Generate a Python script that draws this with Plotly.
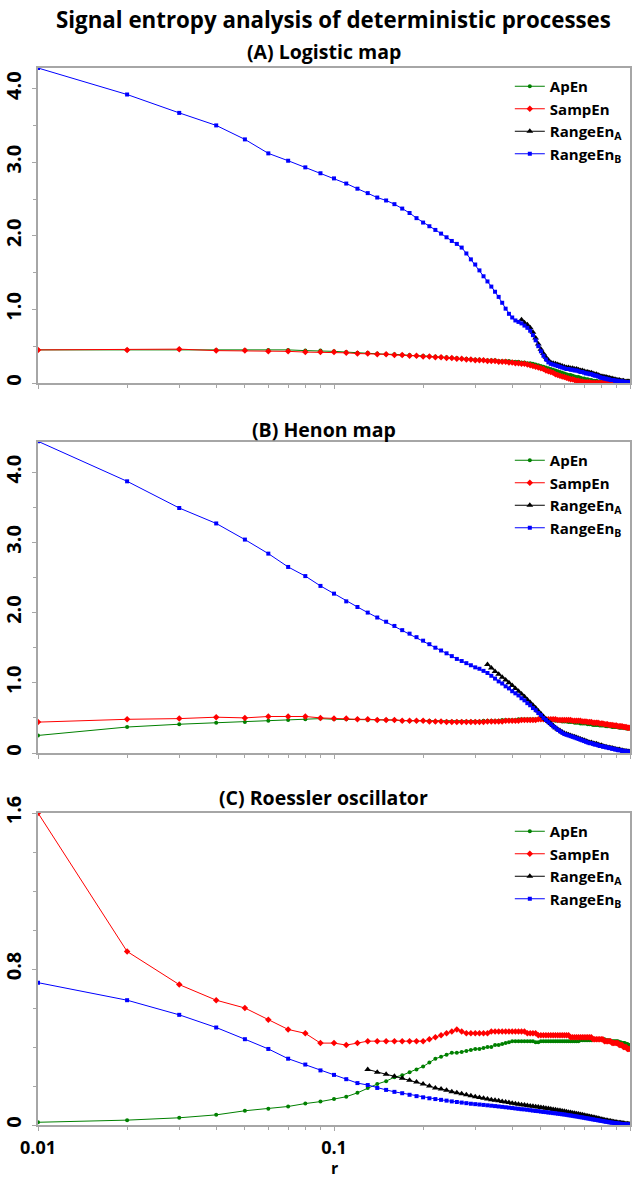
import plotly.graph_objects as go

r = [0.01, 0.02, 0.03, 0.04, 0.05, 0.06, 0.07, 0.08, 0.09, 0.10,
     0.11, 0.12, 0.13, 0.14, 0.15, 0.16, 0.17, 0.18, 0.19, 0.20,
     0.21, 0.22, 0.23, 0.24, 0.25, 0.26, 0.27, 0.28, 0.29, 0.30,
     0.31, 0.32, 0.33, 0.34, 0.35, 0.36, 0.37, 0.38, 0.39, 0.40,
     0.41, 0.42, 0.43, 0.44, 0.45, 0.46, 0.47, 0.48, 0.49, 0.50,
     0.51, 0.52, 0.53, 0.54, 0.55, 0.56, 0.57, 0.58, 0.59, 0.60,
     0.61, 0.62, 0.63, 0.64, 0.65, 0.66, 0.67, 0.68, 0.69, 0.70,
     0.71, 0.72, 0.73, 0.74, 0.75, 0.76, 0.77, 0.78, 0.79, 0.80,
     0.81, 0.82, 0.83, 0.84, 0.85, 0.86, 0.87, 0.88, 0.89, 0.90,
     0.91, 0.92, 0.93, 0.94, 0.95, 0.96, 0.97, 0.98, 0.99, 1.00]

# ---------------- (A) Logistic map ----------------
a_apen = [0.45, 0.45, 0.46, 0.45, 0.45, 0.45, 0.45, 0.44, 0.44, 0.43,
          0.42, 0.41, 0.41, 0.40, 0.39, 0.39, 0.38, 0.38, 0.37, 0.37,
          0.36, 0.36, 0.35, 0.35, 0.34, 0.34, 0.33, 0.33, 0.32, 0.32,
          0.32, 0.31, 0.31, 0.31, 0.31, 0.30, 0.30, 0.30, 0.30, 0.29,
          0.29, 0.29, 0.28, 0.28, 0.27, 0.27, 0.26, 0.25, 0.24, 0.23,
          0.22, 0.21, 0.20, 0.19, 0.18, 0.17, 0.16, 0.15, 0.14, 0.13,
          0.12, 0.11, 0.11, 0.10, 0.09, 0.08, 0.08, 0.07, 0.06, 0.06,
          0.05, 0.05, 0.04, 0.04, 0.03, 0.03, 0.03, 0.02, 0.02, 0.02,
          0.02, 0.01, 0.01, 0.01, 0.01, 0.01, 0.01, 0.00, 0.00, 0.00,
          0.00, 0.00, 0.00, 0.00, 0.00, 0.00, 0.00, 0.00, 0.00, 0.00]
a_sampen = [0.45, 0.45, 0.46, 0.44, 0.44, 0.43, 0.43, 0.42, 0.42, 0.42,
            0.41, 0.40, 0.40, 0.39, 0.39, 0.38, 0.38, 0.37, 0.37, 0.36,
            0.36, 0.35, 0.35, 0.34, 0.34, 0.33, 0.33, 0.32, 0.32, 0.31,
            0.31, 0.31, 0.30, 0.30, 0.30, 0.29, 0.29, 0.29, 0.28, 0.28,
            0.27, 0.27, 0.26, 0.26, 0.25, 0.24, 0.23, 0.22, 0.21, 0.20,
            0.19, 0.17, 0.16, 0.15, 0.14, 0.12, 0.11, 0.10, 0.09, 0.08,
            0.07, 0.06, 0.05, 0.05, 0.04, 0.03, 0.03, 0.02, 0.02, 0.01,
            0.01, 0.01, 0.01, 0.00, 0.00, 0.00, 0.00, 0.00, 0.00, 0.00,
            0.00, 0.00, 0.00, 0.00, 0.00, 0.00, 0.00, 0.00, 0.00, 0.00,
            0.00, 0.00, 0.00, 0.00, 0.00, 0.00, 0.00, 0.00, 0.00, 0.00]
a_rangeA = [None] * 42 + [
            0.86, 0.82, 0.79, 0.75, 0.69, 0.61, 0.53, 0.46,
            0.40, 0.35, 0.31, 0.28, 0.27, 0.26, 0.25, 0.24, 0.23, 0.22,
            0.21, 0.21, 0.20, 0.20, 0.19, 0.19, 0.18, 0.17, 0.17, 0.16,
            0.15, 0.15, 0.14, 0.14, 0.13, 0.12, 0.12, 0.11, 0.10, 0.09,
            0.09, 0.08, 0.08, 0.07, 0.07, 0.06, 0.06, 0.05, 0.05, 0.04,
            0.04, 0.04, 0.03, 0.03, 0.03, 0.02, 0.02, 0.02, 0.02, 0.02]
a_rangeB = [4.28, 3.92, 3.67, 3.50, 3.31, 3.12, 3.02, 2.93, 2.85, 2.78,
            2.71, 2.64, 2.58, 2.52, 2.48, 2.43, 2.37, 2.31, 2.24, 2.18,
            2.13, 2.08, 2.03, 1.98, 1.93, 1.89, 1.84, 1.76, 1.68, 1.61,
            1.53, 1.45, 1.38, 1.31, 1.24, 1.17, 1.09, 1.01, 0.94, 0.89,
            0.85, 0.83, 0.81, 0.78, 0.75, 0.71, 0.65, 0.58, 0.50, 0.43,
            0.37, 0.32, 0.28, 0.26, 0.25, 0.24, 0.23, 0.22, 0.21, 0.20,
            0.19, 0.19, 0.18, 0.18, 0.17, 0.17, 0.16, 0.15, 0.15, 0.14,
            0.13, 0.13, 0.12, 0.12, 0.11, 0.10, 0.10, 0.09, 0.08, 0.07,
            0.07, 0.06, 0.06, 0.05, 0.05, 0.04, 0.04, 0.04, 0.03, 0.03,
            0.03, 0.02, 0.02, 0.02, 0.02, 0.01, 0.01, 0.01, 0.01, 0.01]

# ---------------- (B) Henon map ----------------
b_apen = [0.25, 0.37, 0.41, 0.43, 0.44, 0.46, 0.47, 0.48, 0.49, 0.48,
          0.48, 0.48, 0.47, 0.47, 0.47, 0.47, 0.46, 0.46, 0.46, 0.46,
          0.46, 0.45, 0.45, 0.45, 0.45, 0.45, 0.45, 0.45, 0.45, 0.45,
          0.45, 0.46, 0.46, 0.46, 0.46, 0.46, 0.47, 0.47, 0.47, 0.47,
          0.47, 0.48, 0.48, 0.48, 0.48, 0.48, 0.48, 0.48, 0.48, 0.48,
          0.48, 0.48, 0.47, 0.47, 0.47, 0.46, 0.46, 0.46, 0.45, 0.45,
          0.45, 0.44, 0.44, 0.44, 0.43, 0.43, 0.43, 0.42, 0.42, 0.42,
          0.42, 0.41, 0.41, 0.41, 0.40, 0.40, 0.40, 0.40, 0.39, 0.39,
          0.39, 0.39, 0.38, 0.38, 0.38, 0.38, 0.37, 0.37, 0.37, 0.37,
          0.37, 0.36, 0.36, 0.36, 0.36, 0.36, 0.35, 0.35, 0.35, 0.35]
b_sampen = [0.44, 0.48, 0.49, 0.51, 0.50, 0.52, 0.52, 0.52, 0.50, 0.49,
            0.49, 0.48, 0.48, 0.47, 0.47, 0.47, 0.46, 0.46, 0.46, 0.46,
            0.45, 0.45, 0.45, 0.44, 0.44, 0.44, 0.44, 0.44, 0.44, 0.44,
            0.44, 0.44, 0.45, 0.45, 0.45, 0.45, 0.45, 0.46, 0.46, 0.46,
            0.46, 0.46, 0.47, 0.47, 0.47, 0.47, 0.47, 0.47, 0.48, 0.48,
            0.48, 0.48, 0.48, 0.48, 0.48, 0.48, 0.47, 0.47, 0.47, 0.47,
            0.47, 0.47, 0.47, 0.46, 0.46, 0.46, 0.46, 0.46, 0.45, 0.45,
            0.45, 0.44, 0.44, 0.44, 0.43, 0.43, 0.43, 0.43, 0.42, 0.42,
            0.42, 0.41, 0.41, 0.41, 0.40, 0.40, 0.40, 0.39, 0.39, 0.39,
            0.38, 0.38, 0.38, 0.38, 0.37, 0.37, 0.37, 0.36, 0.36, 0.36]
b_rangeA = [None] * 32 + [
            1.26, 1.21, 1.16, 1.12, 1.08, 1.04, 1.00, 0.96,
            0.92, 0.88, 0.84, 0.80, 0.76, 0.72, 0.68, 0.64, 0.60, 0.56,
            0.52, 0.48, 0.45, 0.42, 0.39, 0.36, 0.34, 0.32, 0.30, 0.28,
            0.27, 0.26, 0.25, 0.24, 0.23, 0.22, 0.21, 0.20, 0.19, 0.18,
            0.17, 0.16, 0.15, 0.15, 0.14, 0.13, 0.13, 0.12, 0.11, 0.11,
            0.10, 0.09, 0.09, 0.08, 0.08, 0.07, 0.07, 0.06, 0.06, 0.05,
            0.05, 0.05, 0.04, 0.04, 0.03, 0.03, 0.03, 0.02, 0.02, 0.02]
b_rangeB = [4.44, 3.87, 3.49, 3.27, 3.04, 2.84, 2.65, 2.52, 2.38, 2.27,
            2.16, 2.08, 2.00, 1.93, 1.87, 1.81, 1.75, 1.70, 1.65, 1.60,
            1.55, 1.50, 1.46, 1.42, 1.38, 1.34, 1.31, 1.28, 1.25, 1.22,
            1.20, 1.17, 1.14, 1.10, 1.06, 1.02, 0.99, 0.95, 0.92, 0.88,
            0.85, 0.82, 0.78, 0.75, 0.71, 0.68, 0.64, 0.61, 0.57, 0.54,
            0.50, 0.47, 0.44, 0.41, 0.38, 0.36, 0.33, 0.31, 0.29, 0.27,
            0.26, 0.25, 0.24, 0.23, 0.22, 0.21, 0.20, 0.19, 0.18, 0.17,
            0.16, 0.15, 0.14, 0.14, 0.13, 0.12, 0.12, 0.11, 0.10, 0.10,
            0.09, 0.09, 0.08, 0.08, 0.07, 0.07, 0.06, 0.06, 0.05, 0.05,
            0.04, 0.04, 0.04, 0.03, 0.03, 0.03, 0.02, 0.02, 0.02, 0.01]

# ---------------- (C) Roessler oscillator ----------------
c_apen = [0.014, 0.025, 0.037, 0.052, 0.073, 0.083, 0.095, 0.110, 0.120, 0.133,
          0.145, 0.165, 0.190, 0.210, 0.225, 0.245, 0.255, 0.270, 0.285, 0.300,
          0.320, 0.340, 0.350, 0.360, 0.370, 0.370, 0.375, 0.380, 0.385, 0.390,
          0.390, 0.395, 0.400, 0.400, 0.410, 0.410, 0.415, 0.420, 0.425, 0.430,
          0.430, 0.430, 0.430, 0.430, 0.430, 0.430, 0.430, 0.425, 0.425, 0.430,
          0.430, 0.430, 0.430, 0.430, 0.430, 0.430, 0.430, 0.430, 0.430, 0.430,
          0.430, 0.430, 0.430, 0.430, 0.430, 0.430, 0.430, 0.435, 0.435, 0.435,
          0.435, 0.435, 0.435, 0.435, 0.440, 0.440, 0.440, 0.440, 0.440, 0.440,
          0.440, 0.440, 0.435, 0.435, 0.435, 0.430, 0.430, 0.430, 0.430, 0.430,
          0.430, 0.425, 0.425, 0.420, 0.420, 0.420, 0.415, 0.415, 0.410, 0.410]
c_sampen = [1.60, 0.89, 0.72, 0.64, 0.60, 0.54, 0.49, 0.47, 0.42, 0.42,
            0.41, 0.42, 0.43, 0.43, 0.43, 0.43, 0.43, 0.43, 0.43, 0.43,
            0.44, 0.45, 0.46, 0.47, 0.48, 0.49, 0.48, 0.47, 0.47, 0.47,
            0.47, 0.47, 0.47, 0.48, 0.48, 0.48, 0.48, 0.48, 0.48, 0.48,
            0.48, 0.48, 0.48, 0.48, 0.47, 0.47, 0.47, 0.47, 0.46, 0.46,
            0.46, 0.46, 0.46, 0.46, 0.46, 0.46, 0.46, 0.46, 0.46, 0.46,
            0.46, 0.46, 0.45, 0.45, 0.45, 0.45, 0.45, 0.45, 0.45, 0.45,
            0.45, 0.45, 0.45, 0.45, 0.44, 0.44, 0.44, 0.44, 0.44, 0.44,
            0.44, 0.43, 0.43, 0.43, 0.43, 0.43, 0.42, 0.42, 0.42, 0.42,
            0.42, 0.41, 0.41, 0.41, 0.40, 0.40, 0.40, 0.39, 0.39, 0.39]
c_rangeA = [None] * 12 + [
            0.285, 0.270, 0.260, 0.250, 0.240, 0.230, 0.220, 0.210,
            0.200, 0.190, 0.185, 0.178, 0.170, 0.165, 0.160, 0.155, 0.150, 0.145,
            0.141, 0.137, 0.133, 0.130, 0.127, 0.124, 0.121, 0.118, 0.115, 0.112,
            0.109, 0.107, 0.104, 0.102, 0.100, 0.098, 0.096, 0.094, 0.092, 0.090,
            0.088, 0.086, 0.084, 0.082, 0.080, 0.078, 0.076, 0.074, 0.072, 0.070,
            0.068, 0.066, 0.064, 0.062, 0.060, 0.058, 0.056, 0.054, 0.052, 0.050,
            0.048, 0.046, 0.044, 0.042, 0.040, 0.038, 0.036, 0.034, 0.032, 0.030,
            0.028, 0.026, 0.025, 0.023, 0.021, 0.020, 0.018, 0.017, 0.015, 0.014,
            0.013, 0.012, 0.011, 0.010, 0.009, 0.008, 0.007, 0.006, 0.005, 0.005]
c_rangeB = [0.730, 0.640, 0.565, 0.500, 0.440, 0.390, 0.340, 0.310, 0.280, 0.257,
            0.235, 0.215, 0.205, 0.190, 0.180, 0.170, 0.163, 0.155, 0.148, 0.142,
            0.137, 0.133, 0.129, 0.125, 0.121, 0.118, 0.115, 0.112, 0.109, 0.107,
            0.105, 0.103, 0.101, 0.099, 0.097, 0.095, 0.093, 0.091, 0.089, 0.087,
            0.085, 0.083, 0.081, 0.080, 0.078, 0.076, 0.074, 0.072, 0.071, 0.069,
            0.067, 0.066, 0.064, 0.063, 0.061, 0.060, 0.058, 0.057, 0.055, 0.054,
            0.052, 0.050, 0.049, 0.047, 0.045, 0.044, 0.042, 0.040, 0.039, 0.037,
            0.035, 0.034, 0.032, 0.030, 0.029, 0.027, 0.026, 0.024, 0.023, 0.021,
            0.020, 0.018, 0.017, 0.016, 0.014, 0.013, 0.012, 0.011, 0.010, 0.009,
            0.008, 0.007, 0.006, 0.005, 0.005, 0.004, 0.003, 0.003, 0.002, 0.002]

panel_titles = ["(A) Logistic map", "(B) Henon map", "(C) Roessler oscillator"]
main_title = "Signal entropy analysis of deterministic processes"
x_label = "r"
series_names = ["ApEn", "SampEn", "RangeEn<sub>A</sub>", "RangeEn<sub>B</sub>"]
x_tickvals = [0.01, 0.1, 1]
x_ticktext = ["0.01", "0.1", "1"]
x_minor = [0.02, 0.03, 0.04, 0.05, 0.06, 0.07, 0.08, 0.09,
           0.2, 0.3, 0.4, 0.5, 0.6, 0.7, 0.8, 0.9]
y_ticks_ab = [0, 1, 2, 3, 4]
y_text_ab = ["0", "1.0", "2.0", "3.0", "4.0"]
y_ticks_c = [0, 0.8, 1.6]
y_text_c = ["0", "0.8", "1.6"]

FONT = "'Open Sans', sans-serif"
colors = ["#008000", "#ff0000", "#000000", "#0000ff"]
symbols = ["circle", "diamond", "triangle-up", "square"]
msizes = [4, 5, 6, 4]

panels = [
    [a_apen, a_sampen, a_rangeA, a_rangeB],
    [b_apen, b_sampen, b_rangeA, b_rangeB],
    [c_apen, c_sampen, c_rangeA, c_rangeB],
]

H = 1180.0
W_L, W_R = 38, 630
# plot areas in pixels (top, bottom)
areas = [(68, 383), (442, 753), (813, 1125)]
doms = [[1 - b / H, 1 - t / H] for t, b in areas]
yranges = [[0, 4.28], [0, 4.43], [0, 1.6]]

fig = go.Figure()
for p, data in enumerate(panels):
    sfx = "" if p == 0 else str(p + 1)
    for k, ys in enumerate(data):
        fig.add_trace(go.Scatter(
            x=r, y=ys, mode="lines+markers", name=series_names[k],
            line=dict(color=colors[k], width=1),
            marker=dict(color=colors[k], symbol=symbols[k], size=msizes[k]),
            xaxis="x" + sfx, yaxis="y" + sfx,
            legend="legend" + sfx,
        ))

layout = dict(
    width=634, height=1180,
    margin=dict(l=W_L, r=634 - W_R, t=0, b=0),
    paper_bgcolor="white", plot_bgcolor="white",
    font=dict(family=FONT, color="black"),
    showlegend=True,
)

for p in range(3):
    sfx = "" if p == 0 else str(p + 1)
    last = p == 2
    layout["xaxis" + sfx] = dict(
        type="log", range=[-2, 0], domain=[0, 1], anchor="y" + sfx,
        showgrid=False, zeroline=False,
        showline=True, linecolor="#a6a6a6", linewidth=1.5, mirror=True,
        ticks="outside", ticklen=4, tickcolor="#a6a6a6",
        tickvals=x_tickvals,
        ticktext=["<b>" + t + "</b>" for t in x_ticktext] if last else ["", "", ""],
        showticklabels=last,
        tickfont=dict(size=18, family=FONT, color="black"),
        ticklabelstandoff=2,
        minor=dict(tickvals=x_minor, ticks="outside", ticklen=3, tickcolor="#a6a6a6"),
        automargin=False,
    )
    if p < 2:
        tv, tt, mdt = y_ticks_ab, y_text_ab, 0.5
    else:
        tv, tt, mdt = y_ticks_c, y_text_c, 0.2
    layout["yaxis" + sfx] = dict(
        range=yranges[p], domain=doms[p], anchor="x" + sfx,
        showgrid=False, zeroline=False,
        showline=True, linecolor="#a6a6a6", linewidth=1.5, mirror=True,
        ticks="outside", ticklen=4, tickcolor="#a6a6a6",
        tickvals=tv, ticktext=["<b>" + t + "</b>" for t in tt], tickangle=-90,
        tickfont=dict(size=20, family=FONT, color="black"),
        ticklabelstandoff=3,
        minor=dict(dtick=mdt, ticks="outside", ticklen=3, tickcolor="#a6a6a6"),
        automargin=False,
    )
    top_px = areas[p][0]
    layout["legend" + sfx] = dict(
        x=0.797, xanchor="left", y=1 - (top_px + 2) / H, yanchor="top",
        font=dict(size=15, family=FONT, color="black", weight="bold"),
        bgcolor="rgba(255,255,255,0)", borderwidth=0,
        tracegroupgap=0,
    )

annotations = [dict(
    text="<b>" + main_title + "</b>", x=0.499, xref="paper", y=1 - 19 / H,
    yref="paper", xanchor="center", yanchor="middle", showarrow=False,
    font=dict(size=22.3, family=FONT, color="black"),
)]
sub_y = [52, 429, 797]
for p in range(3):
    annotations.append(dict(
        text="<b>" + panel_titles[p] + "</b>", x=0.483, xref="paper",
        y=1 - sub_y[p] / H, yref="paper", xanchor="center", yanchor="middle",
        showarrow=False, font=dict(size=19.5, family=FONT, color="black"),
    ))
annotations.append(dict(
    text="<b>" + x_label + "</b>", x=0.5, xref="paper", y=0,
    yref="paper", xanchor="center", yanchor="bottom", showarrow=False,
    font=dict(size=16, family=FONT, color="black"), borderpad=0,
))
layout["annotations"] = annotations

fig.update_layout(**layout)
fig.write_html(
    "out.html",
    config={"displayModeBar": False},
    post_script="document.body.style.margin='0px';document.body.style.overflow='hidden';",
)
